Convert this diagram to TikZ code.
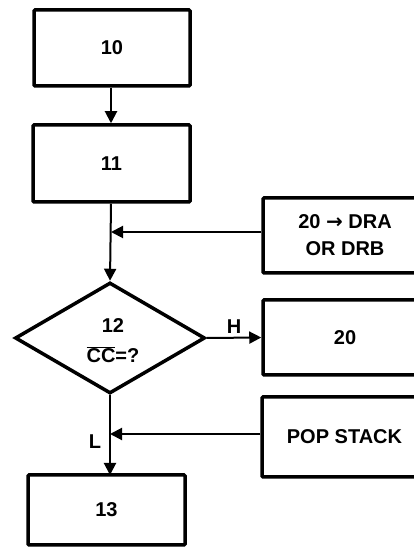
\documentclass[tikz,border=0pt]{standalone}
\usepackage{fontspec}
\setmainfont{Liberation Sans}
\newfontfamily\arrowfont{DejaVu Sans}
\usetikzlibrary{arrows.meta,shapes.geometric}
\begin{document}
\begin{tikzpicture}[x=1pt,y=1pt,
  box/.style={draw,line width=3.5pt,rounded corners=1pt,font=\bfseries\fontsize{20}{24}\selectfont,align=center},
  conn/.style={line width=2pt,-{Triangle[length=12pt,width=12pt]}},
  lbl/.style={font=\bfseries\fontsize{20}{24}\selectfont}]
\useasboundingbox (0,0) rectangle (414,548);
\clip (0,0) rectangle (414,548);
\node[box,minimum width=156pt,minimum height=76pt] (b10) at (112,500) {10};
\node[box,minimum width=157pt,minimum height=77pt] (b11) at (111.5,384.5) {11};
\node[box,minimum width=164pt,minimum height=75pt,font=\bfseries\fontsize{20}{27}\selectfont] (dra) at (345,312.5) {20 {\arrowfont\bfseries →} DRA\\OR DRB};
\node[draw,diamond,line width=3.5pt,inner sep=0pt,minimum width=190pt,minimum height=111pt,aspect=1.7] (d12) at (110,210) {};
\node[lbl,align=center,font=\bfseries\fontsize{20}{30}\selectfont] (t12) at (113,207) {12\\$\overline{\mbox{CC}}$=?};
\node[box,minimum width=164pt,minimum height=75pt] (b20) at (345,210.5) {20};
\node[box,minimum width=165pt,minimum height=80pt] (pop) at (344.5,111) {POP STACK};
\node[box,minimum width=157pt,minimum height=70pt] (b13) at (106.5,38) {13};
\coordinate (m1) at (111,316);
\coordinate (m2) at (110,114);
\coordinate (in13) at (110,73);
\draw[conn] (b10.south -| 111,0) -- (b11.north -| 111,0);
\draw[conn] (b11.south -| 111,0) -- (d12.north);
\draw[conn] (dra.west |- m1) -- (m1);
\draw[conn] (d12.east) -- node[lbl,above,pos=0.5] (h) {H} (b20.west);
\draw[conn] (d12.south) -- (in13);
\draw[conn] (pop.west |- m2) -- (m2);
\node[lbl] (l) at (95,106) {L};
\end{tikzpicture}
\end{document}
